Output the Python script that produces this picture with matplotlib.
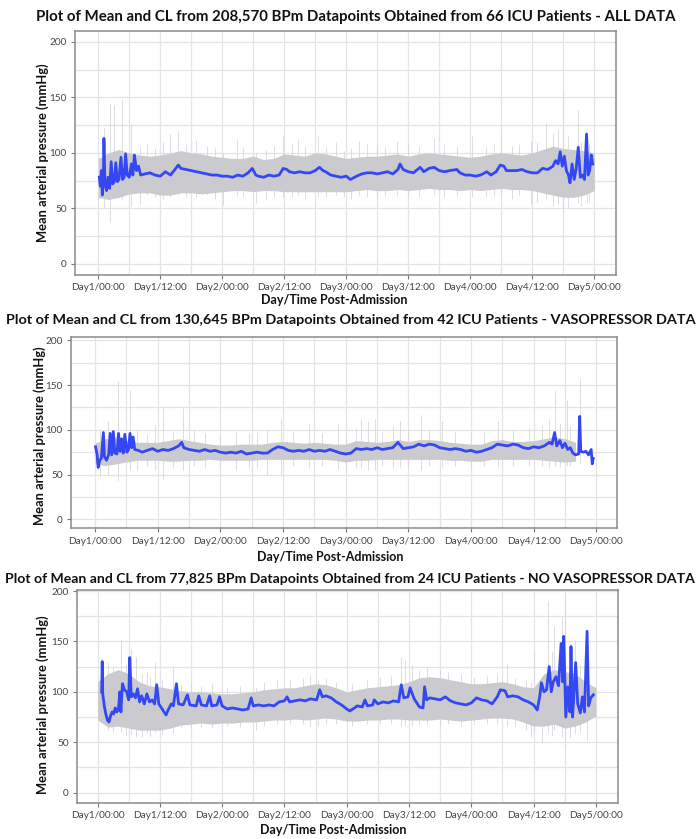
import numpy as np
import matplotlib
matplotlib.use('Agg')
from matplotlib import pyplot as plt
from matplotlib.ticker import MultipleLocator

plt.rcParams['font.family'] = ['Lato', 'DejaVu Sans']

# x tick labels (hours after admission, one every 12 h)
tick_hours = [0, 12, 24, 36, 48, 60, 72, 84, 96]
tick_labels = ['Day1/00:00', 'Day1/12:00', 'Day2/00:00', 'Day2/12:00', 'Day3/00:00',
               'Day3/12:00', 'Day4/00:00', 'Day4/12:00', 'Day5/00:00']

titles = [
    'Plot of Mean and CL from 208,570 BPm Datapoints Obtained from 66 ICU Patients - ALL DATA',
    'Plot of Mean and CL from 130,645 BPm Datapoints Obtained from 42 ICU Patients - VASOPRESSOR DATA',
    'Plot of Mean and CL from 77,825 BPm Datapoints Obtained from 24 ICU Patients - NO VASOPRESSOR DATA',
]

# ---- ALL DATA ----
p1_mean_h = [0.2, 0.4, 0.6, 0.8, 1.0, 1.1, 1.3, 1.6, 1.9, 2.2, 2.5, 2.8, 3.1, 3.4, 3.7, 4.0, 4.4, 4.7,
             5.0, 5.3, 5.6, 6.0, 6.4, 6.7, 7.0, 7.4, 7.8, 8.2, 9, 10, 11, 12, 13, 14, 15, 15.5, 16, 17,
             18, 19, 20, 21, 22, 23, 24, 25, 26, 27, 28, 29, 29.8, 30.5, 31, 32, 33, 34, 35, 35.8,
             36.5, 37, 38, 39, 40, 41, 42, 42.8, 43.5, 44, 45, 46, 47, 48, 48.8, 50, 51, 52, 53, 54,
             55, 56, 57, 58, 58.4, 59, 60, 61, 62.3, 63, 64, 65, 66, 67, 68, 69.4, 70, 71, 72, 73,
             74, 75.2, 76, 77, 77.8, 78.5, 79, 80, 81, 82, 83, 84, 85, 86, 87, 88, 88.5, 89, 89.4,
             89.8, 90.2, 90.6, 91.0, 91.3, 91.7, 92.1, 92.5, 92.9, 93.3, 93.7, 94.1, 94.5, 94.8,
             95.1, 95.4, 95.7]
p1_mean_v = [78, 70, 84, 62, 80, 113, 72, 66, 78, 68, 92, 72, 74, 91, 74, 76, 96, 76,
             78, 99, 80, 78, 90, 80, 98, 84, 88, 80, 81, 82, 80, 79, 83, 80, 86, 89, 86, 85,
             84, 83, 82, 81, 80, 80, 79, 79, 78, 80, 79, 82, 86, 80, 79, 78, 80, 79, 80, 86,
             85, 83, 82, 83, 82, 82, 84, 87, 84, 83, 80, 79, 78, 79, 76, 79, 81, 82, 82, 81,
             82, 83, 81, 85, 90, 85, 83, 82, 87, 83, 86, 87, 84, 83, 84, 85, 82, 80, 80, 79,
             80, 83, 80, 83, 89, 88, 84, 84, 84, 85, 83, 82, 82, 86, 85, 88, 93, 90, 101,
             88, 97, 84, 80, 73, 90, 76, 86, 105, 78, 80, 76, 117, 80,
             84, 98, 90]
p1_band_h = list(range(0, 97, 2))
p1_lo = [60, 58, 60, 63, 64, 64, 62, 62, 64, 64, 63, 64, 65, 66, 66, 65, 66, 66, 65, 65, 65, 65, 65,
         65, 65, 66, 67, 66, 66, 67, 66, 67, 68, 67, 67, 66, 67, 66, 67, 68, 67, 67, 66, 64, 62, 60,
         60, 62, 66]
p1_hi = [95, 100, 103, 100, 98, 97, 98, 100, 102, 100, 99, 97, 96, 95, 95, 97, 94, 95, 99, 98, 97,
         100, 99, 97, 95, 96, 97, 97, 98, 99, 97, 99, 100, 99, 98, 97, 96, 97, 99, 100, 99, 98, 100,
         103, 106, 104, 103, 102, 100]
p1_spike_h = [1.2, 2.3, 3.0, 4.5, 6.3, 8.0, 13.9, 15.5, 19.0, 24.2, 26.8, 30.5, 35.8, 38.7, 42.6,
              46.1, 50.4, 52.0, 57.8, 64.9, 72.3, 78.0, 83.8, 86.7, 90.0, 92.9, 94.5,
              9.5, 11, 12.5, 17, 21, 22.5, 28, 32.5, 34, 37.5, 40, 44, 47.5, 49, 54, 55.5, 60, 62,
              67, 69.5, 75, 76.5, 80, 81.5, 85, 88, 89, 91, 93.5, 95]
p1_spike_lo = [50, 38, 60, 58, 52, 54, 60, 62, 60, 53, 62, 55, 60, 62, 60, 62, 62, 60, 62, 62, 60,
               62, 54, 58, 47, 55, 55,
               62, 60, 58, 60, 62, 58, 60, 58, 60, 60, 58, 60, 60, 58, 60, 62, 60, 60,
               60, 62, 60, 62, 58, 62, 56, 52, 54, 50, 52, 56]
p1_spike_hi = [122, 145, 143, 148, 126, 105, 117, 120, 112, 100, 112, 100, 115, 112, 115, 110, 111,
               108, 111, 113, 115, 121, 111, 127, 157, 139, 112,
               108, 104, 110, 108, 106, 104, 104, 103, 106, 108, 106, 104, 102, 104, 106, 104, 108, 106,
               108, 106, 104, 108, 106, 108, 110, 118, 122, 115, 110, 108]

# ---- VASOPRESSOR DATA ----
p2_mean_h = [0.1, 0.4, 0.6, 0.9, 1.2, 1.6, 1.8, 2.2, 2.6, 2.9, 3.2, 3.5, 3.8, 4.2, 4.5, 4.8, 5.1,
             5.4, 5.7, 6.1, 6.4, 6.7, 7.0, 7.3, 7.6, 8.3, 9, 10, 11, 12, 13, 14, 15, 16, 16.6, 17,
             18, 19, 20, 21, 22, 23, 24, 25, 26, 27, 28, 29, 30, 31, 32, 33, 34, 35, 36, 37, 38, 39,
             40, 41, 42, 43, 44, 45, 46, 47, 48, 49, 50, 51, 52, 53, 54, 55, 56, 57, 58, 59, 60, 61,
             62, 63, 64, 65, 66, 67, 68, 69, 70, 71, 72, 73, 74, 75, 76, 77, 78, 79, 80, 81, 82, 83,
             84, 85, 86, 87, 87.5, 88, 88.4, 89, 89.5, 90, 90.5, 91, 91.5, 92, 92.6, 92.8, 93.0,
             93.5, 94, 94.5, 95, 95.2, 95.4]
p2_mean_v = [81, 72, 58, 66, 68, 97, 70, 66, 72, 96, 72, 98, 74, 73, 96, 76, 90,
             74, 95, 75, 78, 96, 80, 92, 78, 77, 75, 77, 79, 76, 78, 77, 79, 82, 86, 80,
             78, 77, 76, 78, 76, 77, 75, 74, 75, 74, 76, 73, 74, 75, 74, 74, 78, 81, 80, 77, 76, 77,
             76, 78, 76, 77, 76, 78, 76, 74, 73, 74, 79, 78, 79, 78, 80, 78, 79, 80, 86, 79, 80, 81,
             84, 82, 84, 83, 80, 79, 78, 79, 78, 76, 77, 75, 76, 78, 80, 84, 83, 82, 84, 83, 80, 79,
             81, 80, 82, 86, 84, 97, 82, 88, 80, 85, 78, 80, 74, 72, 73, 115, 76,
             75, 76, 72, 78, 62, 68]
p2_band_h = list(range(0, 93, 2))
p2_lo = [62, 60, 62, 64, 66, 66, 66, 65, 65, 66, 66, 67, 66, 66, 66, 66, 67, 67, 67, 67, 67, 67, 67,
         66, 64, 66, 66, 67, 67, 67, 67, 67, 67, 67, 66, 66, 65, 65, 67, 67, 67, 67, 67, 66, 65, 64,
         65]
p2_hi = [85, 90, 92, 88, 86, 86, 86, 88, 90, 88, 86, 84, 83, 83, 84, 84, 84, 86, 87, 86, 85, 86, 85,
         84, 84, 88, 87, 86, 87, 89, 87, 89, 89, 88, 86, 85, 84, 84, 88, 89, 87, 87, 88, 90, 92, 90,
         86]
p2_spike_h = [1.0, 4.4, 6.7, 13.0, 16.9, 33.0, 35.7, 41.0, 46.5, 51.0, 52.3, 53.6, 58.4, 62.5, 66.4,
              77.2, 88.0, 90.3, 92.8,
              2.5, 8, 10, 11.5, 15, 19, 21, 24, 27, 29.5, 31, 38, 43.5, 48, 50, 55, 57, 60, 64, 69,
              72, 74.5, 80, 83, 85.5, 87, 89, 91]
p2_spike_lo = [48, 43, 55, 45, 55, 50, 51, 58, 56, 57, 55, 55, 58, 55, 58, 58, 60, 60, 62,
               50, 55, 60, 55, 58, 60, 58, 60, 55, 58, 58, 60, 60, 52, 58, 60, 58, 60, 60, 60,
               56, 60, 60, 60, 60, 58, 58, 60]
p2_spike_hi = [100, 155, 144, 125, 124, 100, 112, 108, 107, 112, 110, 112, 110, 116, 110, 110, 144,
               133, 157,
               110, 100, 95, 105, 98, 100, 96, 94, 98, 96, 98, 98, 96, 92, 102, 98, 104, 100, 100, 98,
               96, 98, 100, 102, 105, 112, 108, 104]

# ---- NO VASOPRESSOR DATA ----
p3_mean_h = [0.8, 0.9, 1.0, 1.3, 1.6, 1.9, 2.2, 2.5, 2.8, 3.1, 3.4, 3.7, 4.0, 4.3, 4.5, 4.8, 5.2, 5.6,
             6.0, 6.2, 6.5, 6.9, 7.3, 7.7, 8.1, 8.5, 9.0, 9.5, 10, 10.5, 11, 11.4, 11.8, 12.3, 12.8,
             13.2, 13.6, 14.2, 14.6, 15.2, 15.6, 16.5, 17.3, 17.8, 19, 19.5, 20, 21, 21.6, 22, 23,
             23.5, 24, 25, 26, 27, 28, 29, 29.6, 30, 31, 32, 33, 34, 35, 36, 36.5, 37, 38, 39, 40,
             41, 42.2, 42.8, 43.3, 44, 45, 46, 47, 48, 48.6, 49.5, 50, 51, 51.5, 52, 53, 53.3, 54,
             55, 56, 57, 58, 58.5, 59, 59.8, 60.2, 61, 62, 62.7, 63, 63.4, 64, 65, 66, 67, 68, 69,
             70, 71, 72, 73, 74, 75, 76, 77, 77.6, 78.5, 79, 80, 81, 82, 83, 84, 84.7, 85.2, 85.5,
             86, 86.5, 87, 87.4, 87.8, 88.3, 88.8, 89.3, 89.6, 89.8, 90.2, 90.6, 91.0, 91.2, 91.5,
             91.8, 92.1, 92.5, 93.0, 93.4, 93.8, 94.3, 94.6, 95.0, 95.5]
p3_mean_v = [100, 130, 98, 86, 78, 72, 70, 76, 80, 78, 84, 80, 82, 100, 80, 108, 102, 100,
             92, 134, 95, 98, 94, 103, 90, 96, 88, 98, 90, 92, 88, 107, 88, 84, 80,
             77, 82, 88, 86, 108, 88, 87, 97, 87, 86, 96, 87, 86, 96, 86, 87,
             95, 86, 83, 84, 83, 82, 83, 94, 86, 87, 86, 87, 86, 90, 91, 95, 90, 91, 92, 91,
             93, 92, 102, 95, 96, 94, 90, 87, 83, 81, 84, 86, 85, 92, 86, 87, 92, 88,
             90, 89, 91, 90, 107, 94, 95, 104, 93, 85, 84, 105, 92, 94, 93, 92, 95, 91, 89,
             88, 87, 89, 94, 92, 91, 88, 95, 102, 101, 95, 96, 95, 92, 90, 87, 82, 96, 109,
             100, 102, 125, 100, 110, 115, 106, 148, 110, 155, 75, 105, 80, 145, 75,
             100, 129, 88, 79, 95, 80, 160, 86, 94, 97]
p3_band_h = list(range(0, 97, 2))
p3_lo = [72, 65, 66, 64, 62, 62, 62, 64, 67, 68, 69, 68, 69, 69, 70, 70, 71, 72, 72, 73, 72, 73, 74,
         73, 71, 71, 72, 72, 73, 73, 72, 72, 72, 73, 72, 71, 72, 73, 74, 74, 73, 70, 66, 66, 68, 64,
         66, 70, 76]
p3_hi = [110, 118, 122, 118, 110, 106, 105, 103, 101, 100, 100, 99, 98, 98, 99, 100, 102, 103, 104,
         104, 106, 108, 107, 104, 100, 102, 104, 105, 106, 107, 110, 114, 115, 114, 112, 110, 108,
         108, 109, 110, 108, 105, 104, 118, 122, 120, 118, 110, 104]
p3_spike_h = [4.6, 6.5, 7.5, 9.5, 11.0, 14.6, 30.6, 42.5, 58.5, 59.2, 60.5, 65.9, 78.8, 84.0, 85.6,
              86.7, 88.0, 89.5, 90.1, 92.0, 94.2,
              2, 3, 5.5, 8.5, 10.2, 12.5, 16, 18, 20, 22, 25, 27.5, 32, 34.5, 37, 39.5, 41, 44, 46,
              49, 52, 54.5, 56.5, 62, 63.5, 67.5, 70, 72.5, 75, 77, 80.5, 82.5, 83.5, 87.5, 91, 93]
p3_spike_lo = [60, 58, 55, 59, 60, 59, 62, 66, 66, 66, 66, 66, 66, 60, 49, 60, 62, 55, 45, 58, 52,
               62, 60, 56, 55, 55, 58, 64, 64, 65, 64, 66, 65, 66, 68, 68, 68, 66, 68, 68,
               66, 68, 68, 68, 68, 68, 68, 66, 68, 68, 68, 66, 62, 55, 56, 54, 60]
p3_spike_hi = [152, 142, 135, 120, 130, 125, 105, 112, 135, 132, 127, 122, 128, 140, 115, 190, 165,
               175, 197, 150, 138,
               130, 125, 128, 118, 115, 112, 108, 110, 106, 108, 105, 106, 110, 112, 112, 114, 116, 114,
               110, 108, 112, 115, 116, 122, 124, 120, 118, 115, 116, 118, 114, 112, 110, 140, 140, 128]

fig = plt.figure(figsize=(7, 8.39), dpi=100)

panels = [
    # rect, xlim, ylim, data, title (x, y), title size, xlabel (x, y), ylabel (x, y)  -- pixels
    ([75, 30.7, 616, 275], (-4.5, 100.2), (-10, 210),
     (p1_mean_h, p1_mean_v, p1_band_h, p1_lo, p1_hi, p1_spike_h, p1_spike_lo, p1_spike_hi),
     (356, 17), 10.8, (334, 300), (43, 153)),
    ([71, 336.7, 617.3, 528.3], (-4.6, 100), (-10, 204),
     (p2_mean_h, p2_mean_v, p2_band_h, p2_lo, p2_hi, p2_spike_h, p2_spike_lo, p2_spike_hi),
     (351, 320), 10.4, (330, 557), (40, 436)),
    ([77.3, 590, 617.7, 802.7], (-3.9, 100.2), (-10, 201),
     (p3_mean_h, p3_mean_v, p3_band_h, p3_lo, p3_hi, p3_spike_h, p3_spike_lo, p3_spike_hi),
     (350, 579), 10.1, (333, 830), (43, 705)),
]

W, H = 700.0, 839.0
for i, (px, xl, yl, data, tpos, tsize, xlab, ylab) in enumerate(panels):
    mh, mv, bh, blo, bhi, sh, slo, shi = data
    x0, y0, x1, y1 = px
    ax = fig.add_axes([x0 / W, 1 - y1 / H, (x1 - x0) / W, (y1 - y0) / H])

    # ばらつきの帯とスパイク
    ax.vlines(sh, slo, shi, color='#d8d8dc', lw=0.6, zorder=1)
    ax.fill_between(bh, blo, bhi, color='#cbcbcf', lw=0, zorder=2)
    # 平均
    ax.plot(mh, mv, color='#3347f2', lw=2.0, zorder=3)

    ax.set_xlim(*xl)
    ax.set_ylim(*yl)
    ax.set_xticks(tick_hours)
    ax.set_xticklabels(tick_labels)
    ax.xaxis.set_minor_locator(MultipleLocator(6))
    ax.set_yticks([0, 50, 100, 150, 200])
    ax.yaxis.set_minor_locator(MultipleLocator(25))
    ax.grid(which='both', color='#e4e4e8', lw=0.9)
    ax.set_axisbelow(True)
    ax.tick_params(which='major', length=3, width=0.8, color='#777777', labelsize=7.2,
                   labelcolor='#444444', pad=3)
    ax.tick_params(which='minor', length=0)
    for s in ax.spines.values():
        s.set_color('#8a8a8a')
        s.set_linewidth(1.1)

    fig.text(tpos[0] / W, 1 - tpos[1] / H, titles[i], ha='center', va='center', fontsize=tsize,
             fontweight='bold', color='#111111')
    fig.text(xlab[0] / W, 1 - xlab[1] / H, 'Day/Time Post-Admission', ha='center', va='center',
             fontsize=9, fontweight='bold', color='#111111')
    fig.text(ylab[0] / W, 1 - ylab[1] / H, 'Mean arterial pressure (mmHg)', ha='center',
             va='center', rotation=90, fontsize=9.3, fontweight='bold', color='#111111')

fig.savefig('out.png', dpi=100)
